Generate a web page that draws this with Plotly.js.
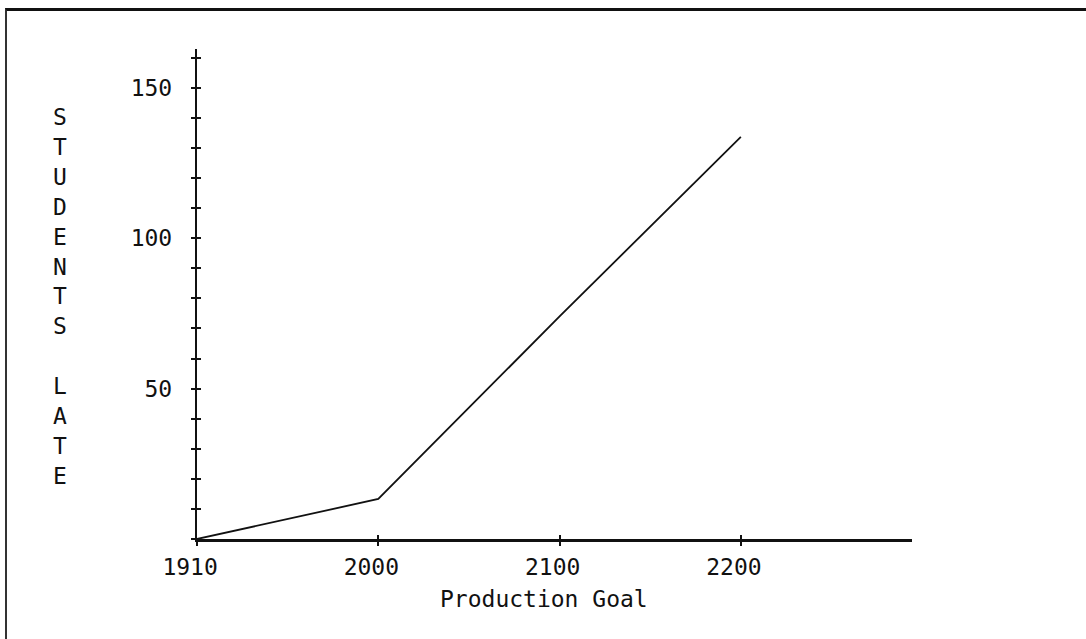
<!DOCTYPE html>
<html>
<head>
<meta charset="utf-8">
<script src="https://cdn.plot.ly/plotly-3.0.1.min.js"></script>
<style>
  html, body { margin: 0; padding: 0; background: #fff; }
  #wrap { position: relative; width: 1086px; height: 639px; overflow: hidden; }
  #chart { position: absolute; left: 0; top: 0; width: 1086px; height: 639px; }
  #frame { position: absolute; left: 5px; top: 8px; width: 1200px; height: 800px;
           border-top: 3px solid #111; border-left: 2px solid #333; pointer-events: none; }
</style>
</head>
<body>
<div id="wrap"><div id="chart"></div><div id="frame"></div></div>
<script>
// ---- data ----
const productionGoal = ['1910', '2000', '2100', '2200'];
const studentsLate   = [0, 13.3, 74, 133.7];
const yTickValues    = [50, 100, 150];
const yTitleLetters  = ['S','T','U','D','E','N','T','S','\u00a0','L','A','T','E'];
const xTitleText     = 'Production Goal';

// ---- styling ----
const INK = '#111';
const FONT = { family: 'DejaVu Sans Mono, monospace', size: 23, color: INK };
const xRange = [0, 3.944];
const yRange = [0, 162.9];

const traces = [
  {
    x: productionGoal, y: studentsLate,
    type: 'scatter', mode: 'lines',
    line: { color: INK, width: 1.8 },
    xaxis: 'x', yaxis: 'y',
    cliponaxis: false, hoverinfo: 'skip', showlegend: false
  },
  { // carrier for the inner half of the crossing tick marks
    x: productionGoal, y: studentsLate,
    type: 'scatter', mode: 'lines',
    line: { color: 'rgba(0,0,0,0)', width: 0 },
    xaxis: 'x2', yaxis: 'y2',
    hoverinfo: 'skip', showlegend: false
  }
];

const layout = {
  width: 1086, height: 639,
  margin: { l: 197, r: 174, t: 49, b: 100 },
  paper_bgcolor: '#fff', plot_bgcolor: '#fff',
  showlegend: false,
  font: FONT,
  xaxis: {
    type: 'category', range: xRange, fixedrange: true,
    showline: true, linewidth: 3, linecolor: INK,
    ticks: 'outside', ticklen: 4, tickwidth: 2, tickcolor: INK,
    tickmode: 'array', tickvals: productionGoal,
    ticktext: productionGoal.map(s => s + '\u00a0'),
    tickfont: FONT, ticklabelstandoff: 1,
    showgrid: false, zeroline: false
  },
  yaxis: {
    range: yRange, fixedrange: true,
    showline: true, linewidth: 2.2, linecolor: INK,
    ticks: 'outside', ticklen: 4, tickwidth: 2, tickcolor: INK,
    tickmode: 'array', tickvals: yTickValues,
    tickfont: FONT, ticklabelstandoff: 14,
    minor: { tickmode: 'linear', tick0: 0, dtick: 10, ticks: 'outside', ticklen: 4, tickwidth: 2, tickcolor: INK, showgrid: false },
    showgrid: false, zeroline: false
  },
  xaxis2: {
    type: 'category', range: xRange, overlaying: 'x', anchor: 'y', side: 'bottom',
    fixedrange: true, showline: false,
    ticks: 'inside', ticklen: 4, tickwidth: 2, tickcolor: INK,
    tickmode: 'array', tickvals: productionGoal,
    showticklabels: false, showgrid: false, zeroline: false
  },
  yaxis2: {
    range: yRange, overlaying: 'y', anchor: 'x', side: 'left',
    fixedrange: true, showline: false,
    ticks: 'inside', ticklen: 4, tickwidth: 2, tickcolor: INK,
    tickmode: 'array', tickvals: yTickValues,
    minor: { tickmode: 'linear', tick0: 0, dtick: 10, ticks: 'inside', ticklen: 4, tickwidth: 2, tickcolor: INK, showgrid: false },
    showticklabels: false, showgrid: false, zeroline: false
  },
  annotations: [
    {
      text: yTitleLetters.join('<br>'),
      xref: 'paper', yref: 'paper',
      x: (60 - 197) / 715, y: (539 - 296.5) / 490,
      xanchor: 'center', yanchor: 'middle',
      showarrow: false, align: 'center', font: FONT
    },
    {
      text: xTitleText,
      xref: 'paper', yref: 'paper',
      x: (543.5 - 197) / 715, y: (539 - 599) / 490,
      xanchor: 'center', yanchor: 'middle',
      showarrow: false, font: FONT
    }
  ]
};

Plotly.newPlot('chart', traces, layout, { displayModeBar: false, staticPlot: true });
</script>
</body>
</html>
